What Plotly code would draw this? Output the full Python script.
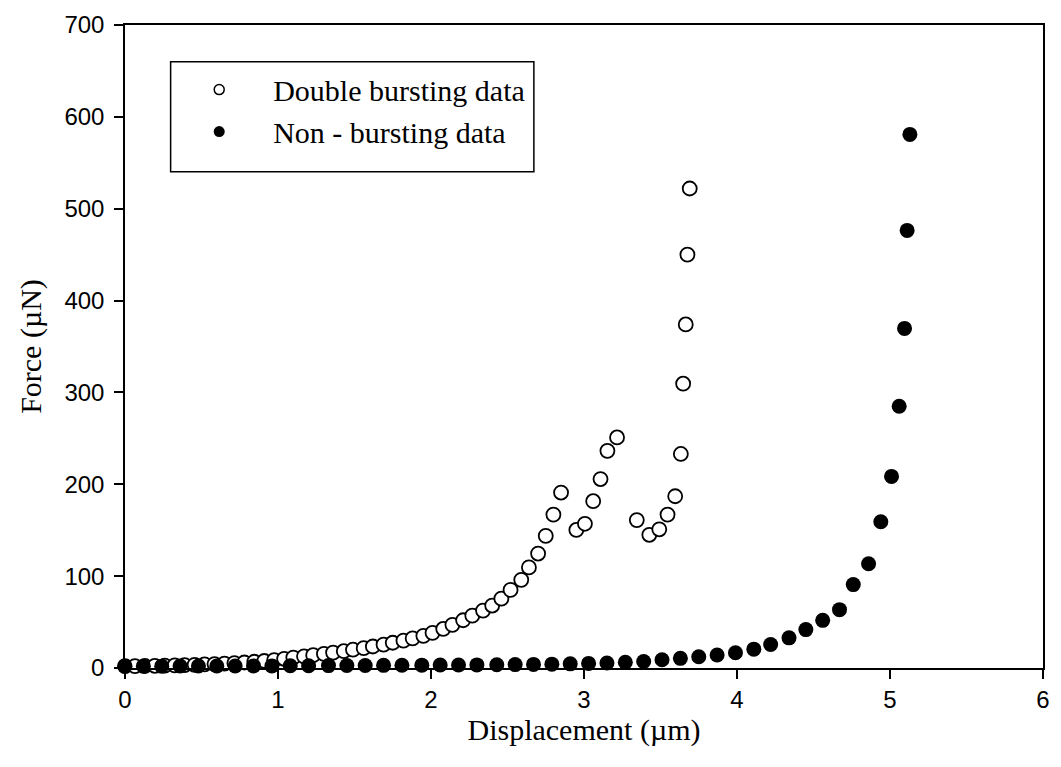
import plotly.graph_objects as go

# Double bursting data (open circles)
double_x = [0.00, 0.065, 0.13, 0.195, 0.26, 0.325, 0.39, 0.455, 0.52, 0.585, 0.65, 0.715,
            0.78, 0.845, 0.91, 0.975, 1.04, 1.10, 1.17, 1.23, 1.30, 1.36, 1.43, 1.49,
            1.56, 1.62, 1.69, 1.75, 1.82, 1.88, 1.95, 2.01, 2.08, 2.14, 2.21, 2.27,
            2.34, 2.40, 2.46, 2.52, 2.59, 2.64, 2.70, 2.75, 2.80, 2.85, 2.95, 3.006,
            3.06, 3.108, 3.153, 3.216, 3.345, 3.427, 3.492, 3.546, 3.596, 3.633, 3.648,
            3.665, 3.676, 3.691]
double_y = [2.0, 2.1, 2.2, 2.4, 2.6, 2.9, 3.2, 3.5, 3.9, 4.3, 4.8, 5.3,
            6.0, 6.8, 7.6, 8.6, 10.0, 11.4, 12.7, 14.0, 15.4, 16.8, 18.3, 19.9,
            21.6, 23.4, 25.4, 27.5, 29.8, 32.3, 35.0, 38.2, 42.5, 47.0, 52.0, 57.0,
            62.5, 68.0, 75.5, 85.0, 96.0, 109.5, 124.6, 143.8, 167.0, 191.0, 150.3, 157.0,
            181.6, 205.7, 236.4, 251.0, 161.0, 145.0, 151.0, 167.0, 187.0, 233.0, 309.5,
            374.0, 450.0, 522.0]

# Non-bursting data (filled circles)
non_x = [0.00, 0.12, 0.24, 0.36, 0.48, 0.60, 0.72, 0.84, 0.96, 1.08, 1.20, 1.33,
         1.45, 1.57, 1.69, 1.81, 1.94, 2.06, 2.18, 2.30, 2.43, 2.55, 2.67, 2.79,
         2.91, 3.03, 3.15, 3.27, 3.39, 3.51, 3.63, 3.75, 3.87, 3.99, 4.11, 4.22,
         4.34, 4.45, 4.56, 4.67, 4.76, 4.86, 4.94, 5.01, 5.06, 5.095, 5.112, 5.13]
non_y = [2.0, 2.0, 2.0, 2.1, 2.1, 2.2, 2.2, 2.3, 2.3, 2.4, 2.5, 2.6,
         2.7, 2.8, 2.9, 3.0, 3.1, 3.2, 3.3, 3.4, 3.5, 3.7, 3.9, 4.2,
         4.5, 5.0, 5.5, 6.3, 7.0, 9.0, 10.5, 12.2, 14.1, 16.6, 20.5, 25.6,
         32.8, 41.8, 51.9, 63.5, 90.8, 113.5, 159.2, 208.6, 285.0, 369.7, 476.4, 580.9]

x_ticks = [0, 1, 2, 3, 4, 5, 6]
y_ticks = [0, 100, 200, 300, 400, 500, 600, 700]

serif = "Liberation Serif"
sans = "Liberation Sans"

fig = go.Figure()
fig.add_trace(go.Scatter(
    x=double_x, y=double_y, mode="markers", showlegend=False,
    marker=dict(symbol="circle", size=14, color="white",
                line=dict(color="black", width=1.8)),
    cliponaxis=False))
fig.add_trace(go.Scatter(
    x=non_x, y=non_y, mode="markers", showlegend=False,
    marker=dict(symbol="circle", size=15, color="black",
                line=dict(color="black", width=0)),
    cliponaxis=False))
# legend entries
fig.add_trace(go.Scatter(
    x=[None], y=[None], mode="markers", name="Double bursting data",
    marker=dict(symbol="circle", size=10, color="white",
                line=dict(color="black", width=1.5))))
fig.add_trace(go.Scatter(
    x=[None], y=[None], mode="markers", name="Non - bursting data",
    marker=dict(symbol="circle", size=11, color="black",
                line=dict(color="black", width=0))))

axis_common = dict(showline=True, linecolor="black", linewidth=1.5, mirror=True,
                   ticks="outside", ticklen=9, tickwidth=1.5, tickcolor="black",
                   showgrid=False, zeroline=False,
                   tickfont=dict(family=sans, size=24, color="black"))

fig.update_layout(
    width=1061, height=767,
    margin=dict(l=125, r=11, t=20, b=99),
    paper_bgcolor="white", plot_bgcolor="white",
    xaxis=dict(range=[0, 6], tickvals=x_ticks,
               title=dict(text="Displacement (\u00b5m)", font=dict(family=serif, size=30, color="black"),
                          standoff=0),
               **axis_common),
    yaxis=dict(range=[0, 700], tickvals=y_ticks, ticklabelstandoff=5,
               title=dict(text="Force (\u00b5N)", font=dict(family=serif, size=30, color="black"),
                          standoff=14),
               **axis_common),
    legend=dict(x=0.0438, y=0.94, xanchor="left", yanchor="top",
                borderwidth=0, bgcolor="rgba(0,0,0,0)",
                font=dict(family=serif, size=30, color="black"),
                itemwidth=98),
    showlegend=True,
    shapes=[dict(type="rect", xref="paper", yref="paper",
                 x0=0.0497, x1=0.4454, y0=0.7716, y1=0.943,
                 line=dict(color="black", width=1.5), fillcolor="rgba(0,0,0,0)", layer="above")],
)

fig.write_html("out.html")
